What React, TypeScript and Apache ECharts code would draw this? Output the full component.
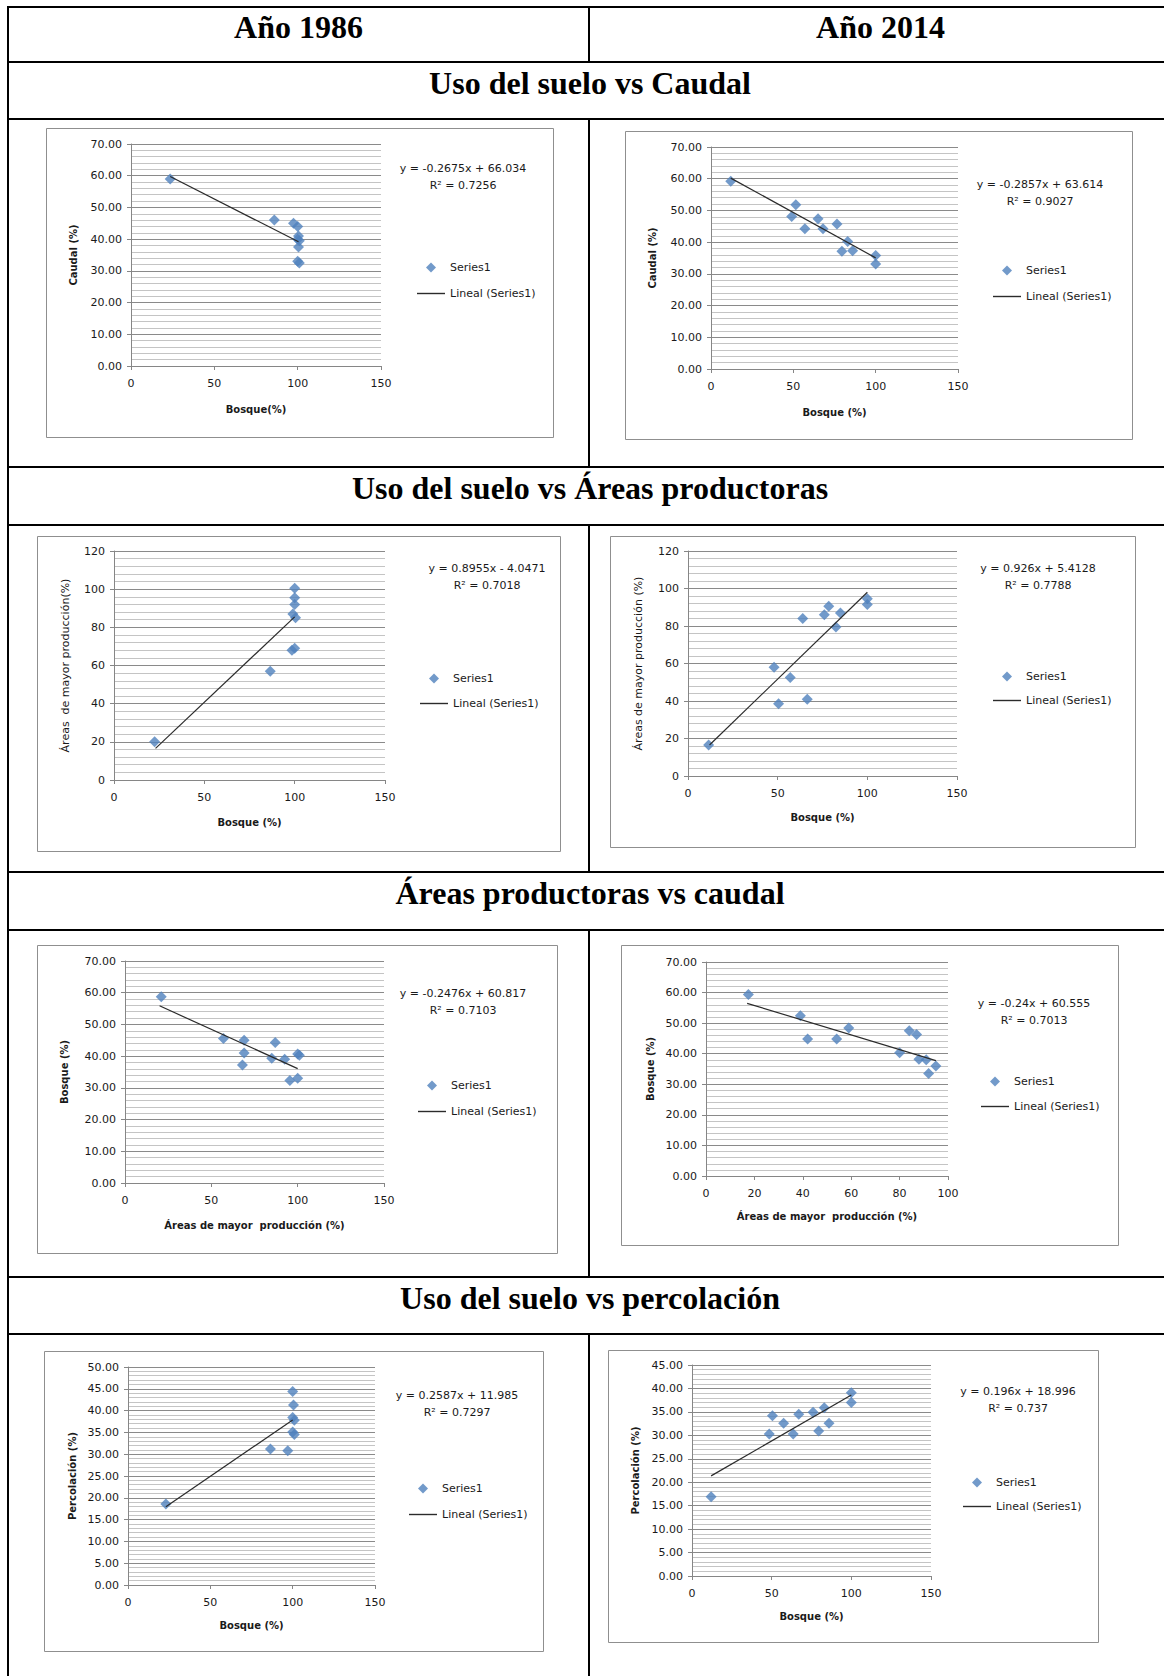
import React, { useEffect, useRef } from 'react';
import * as echarts from 'echarts';

// ---------- texts ----------
const yearHeaders = ['Año 1986', 'Año 2014'];
const sectionTitles = [
  'Uso del suelo vs Caudal',
  'Uso del suelo vs Áreas productoras',
  'Áreas productoras vs caudal',
  'Uso del suelo vs percolación',
];
const xAxisNames = [
  'Bosque(%)', 'Bosque (%)', 'Bosque (%)', 'Bosque (%)',
  'Áreas de mayor  producción (%)', 'Áreas de mayor  producción (%)', 'Bosque (%)', 'Bosque (%)',
];
const yAxisNames = [
  'Caudal (%)', 'Caudal (%)', 'Áreas  de mayor producción(%)', 'Áreas de mayor producción (%)',
  'Bosque (%)', 'Bosque (%)', 'Percolación (%)', 'Percolación (%)',
];
const equationTexts = [
  'y = -0.2675x + 66.034', 'y = -0.2857x + 63.614', 'y = 0.8955x - 4.0471', 'y = 0.926x + 5.4128',
  'y = -0.2476x + 60.817', 'y = -0.24x + 60.555', 'y = 0.2587x + 11.985', 'y = 0.196x + 18.996',
];
const r2Texts = [
  'R² = 0.7256', 'R² = 0.9027', 'R² = 0.7018', 'R² = 0.7788',
  'R² = 0.7103', 'R² = 0.7013', 'R² = 0.7297', 'R² = 0.737',
];
const seriesName = 'Series1';
const trendName = 'Lineal (Series1)';

// ---------- axis ranges ----------
const xMaxes = [150, 150, 150, 150, 150, 100, 150, 150];
const xIntervals = [50, 50, 50, 50, 50, 20, 50, 50];
const yMaxes = [70, 70, 120, 120, 70, 70, 50, 45];
const yIntervals = [10, 10, 20, 20, 10, 10, 5, 5];
const yDecimals = [2, 2, 0, 0, 2, 2, 2, 2];

// ---------- data ----------
// 1986: Bosque vs Caudal
const caudal1986X = [23.5, 86, 97.5, 100, 100.5, 101, 100, 100.5, 100, 101];
const caudal1986Y = [59, 46, 45, 44, 41, 39.5, 40, 37.5, 33, 32.5];
const caudal1986TrendX = [23.5, 100.5];
const caudal1986TrendY = [59.75, 39.15];
// 2014: Bosque vs Caudal
const caudal2014X = [12, 51.5, 49, 57, 65, 68, 76.5, 79.5, 83, 86, 100, 100];
const caudal2014Y = [59.2, 51.8, 48.1, 44.2, 47.4, 44.2, 45.7, 37.1, 40.2, 37.3, 35.8, 33.1];
const caudal2014TrendX = [12, 100];
const caudal2014TrendY = [60.19, 35.04];
// 1986: Bosque vs Áreas productoras
const areas1986X = [22.5, 86.5, 98.5, 100, 99, 100.5, 100, 100, 100];
const areas1986Y = [20, 57, 68, 69, 87, 85, 92, 95.5, 100.5];
const areas1986TrendX = [23, 100];
const areas1986TrendY = [16.55, 85.5];
// 2014: Bosque vs Áreas productoras
const areas2014X = [11.5, 48, 50.5, 57, 64, 66.5, 76, 78.5, 82.5, 85, 100, 100];
const areas2014Y = [16.5, 58, 38.5, 52.5, 84, 41, 86, 90.5, 79.5, 87, 94.5, 91.5];
const areas2014TrendX = [12, 100];
const areas2014TrendY = [16.52, 98.01];
// 1986: Áreas productoras vs Bosque
const prod1986X = [21, 57, 69, 69, 68, 85, 87, 92.5, 95.5, 100, 100, 101];
const prod1986Y = [58.7, 45.6, 45, 41, 37.2, 39.3, 44.3, 39, 32.3, 33, 40.7, 40.3];
const prod1986TrendX = [20, 100];
const prod1986TrendY = [55.87, 36.06];
// 2014: Áreas productoras vs Bosque
const prod2014X = [17.5, 39, 42, 54, 59, 80, 84, 87, 88, 91, 92, 95];
const prod2014Y = [59.4, 52.4, 44.8, 44.8, 48.4, 40.3, 47.5, 46.3, 38.2, 38, 33.5, 36];
const prod2014TrendX = [17, 95];
const prod2014TrendY = [56.48, 37.76];
// 1986: Bosque vs Percolación
const perc1986X = [23, 86.5, 97, 100, 100.5, 100, 101, 100, 101];
const perc1986Y = [18.6, 31.2, 30.8, 44.4, 41.3, 38.4, 37.8, 35.1, 34.5];
const perc1986TrendX = [23, 100];
const perc1986TrendY = [17.94, 37.86];
// 2014: Bosque vs Percolación
const perc2014X = [12, 48.5, 50.5, 57.5, 63.5, 67, 76, 79.5, 83, 86, 100, 100];
const perc2014Y = [16.9, 30.3, 34.2, 32.6, 30.3, 34.5, 34.9, 30.9, 35.9, 32.6, 39.1, 37];
const perc2014TrendX = [12, 100];
const perc2014TrendY = [21.35, 38.6];

const scatterX = [caudal1986X, caudal2014X, areas1986X, areas2014X, prod1986X, prod2014X, perc1986X, perc2014X];
const scatterY = [caudal1986Y, caudal2014Y, areas1986Y, areas2014Y, prod1986Y, prod2014Y, perc1986Y, perc2014Y];
const trendX = [caudal1986TrendX, caudal2014TrendX, areas1986TrendX, areas2014TrendX, prod1986TrendX, prod2014TrendX, perc1986TrendX, perc2014TrendX];
const trendY = [caudal1986TrendY, caudal2014TrendY, areas1986TrendY, areas2014TrendY, prod1986TrendY, prod2014TrendY, perc1986TrendY, perc2014TrendY];

// ---------- layout (pixels) ----------
type Layout = {
  frame: number[]; grid: number[]; eq: number[]; leg: number[]; xGap: number; yGap: number;
  yNameWeight: string; yNameSize: number;
};
const layouts: Layout[] = [
  { frame: [46, 128, 507, 309], grid: [131, 144, 250, 222], eq: [463, 168], leg: [417, 262, 15], xGap: 38, yGap: 53, yNameWeight: 'bold', yNameSize: 10 },
  { frame: [625, 131, 507, 308], grid: [711, 147, 247, 222], eq: [1040, 184], leg: [993, 265, 15], xGap: 38, yGap: 54, yNameWeight: 'bold', yNameSize: 10 },
  { frame: [37, 536, 523, 315], grid: [114, 551, 271, 229], eq: [487, 568], leg: [420, 673, 14], xGap: 37, yGap: 43, yNameWeight: 'normal', yNameSize: 11 },
  { frame: [610, 536, 525, 311], grid: [688, 551, 269, 225], eq: [1038, 568], leg: [993, 671, 13], xGap: 36, yGap: 44, yNameWeight: 'normal', yNameSize: 11 },
  { frame: [37, 945, 520, 308], grid: [125, 961, 259, 222], eq: [463, 993], leg: [418, 1080, 15], xGap: 37, yGap: 56, yNameWeight: 'bold', yNameSize: 10 },
  { frame: [621, 945, 497, 300], grid: [706, 962, 242, 214], eq: [1034, 1003], leg: [981, 1076, 14], xGap: 35, yGap: 51, yNameWeight: 'bold', yNameSize: 10 },
  { frame: [44, 1351, 499, 300], grid: [128, 1367, 247, 218], eq: [457, 1395], leg: [409, 1483, 15], xGap: 35, yGap: 51, yNameWeight: 'bold', yNameSize: 10 },
  { frame: [608, 1350, 490, 292], grid: [692, 1365, 239, 211], eq: [1018, 1391], leg: [963, 1477, 13], xGap: 35, yGap: 52, yNameWeight: 'bold', yNameSize: 10 },
];

const W = 1164;
const H = 1676;
const tableLeft = 8;
const tableRight = 1172;
const colDivider = 589;
const rowLines = [7, 62, 119, 467, 525, 872, 930, 1277, 1334];
const dividerSegments = [[7, 62], [119, 467], [525, 872], [930, 1277], [1334, H]];
const sectionTitleY = [83, 488, 893, 1298];
const yearHeaderY = 27;

const FONT = '"DejaVu Sans"';
const SERIF = '"Liberation Serif", "Times New Roman", serif';
const AXIS_COLOR = '#868686';
const TEXT_COLOR = '#1a1a1a';
const MARKER_COLOR = '#4F81BD';
const TREND_COLOR = '#2b2b2b';
const DIAMOND_ICON = 'path://M5 0L10 5L5 10L0 5Z';
const LINE_ICON = 'path://M0 0H28V1.4H0Z';

function buildOption() {
  const grid: any[] = [];
  const xAxis: any[] = [];
  const yAxis: any[] = [];
  const series: any[] = [];
  const legend: any[] = [];
  const graphic: any[] = [];

  layouts.forEach((L, i) => {
    grid.push({ left: L.grid[0], top: L.grid[1], width: L.grid[2], height: L.grid[3], containLabel: false });
    xAxis.push({
      type: 'value', gridIndex: i, min: 0, max: xMaxes[i], interval: xIntervals[i],
      axisLine: { show: true, onZero: false, lineStyle: { color: AXIS_COLOR, width: 1 } },
      axisTick: { show: true, length: 4, lineStyle: { color: AXIS_COLOR } },
      axisLabel: { margin: 12, fontFamily: FONT, fontSize: 11, color: TEXT_COLOR },
      splitLine: { show: false },
      name: xAxisNames[i], nameLocation: 'middle', nameGap: L.xGap,
      nameTextStyle: { fontFamily: FONT, fontSize: 10, fontWeight: 'bold', color: TEXT_COLOR },
    });
    yAxis.push({
      type: 'value', gridIndex: i, min: 0, max: yMaxes[i], interval: yIntervals[i],
      axisLine: { show: true, onZero: false, lineStyle: { color: AXIS_COLOR, width: 1 } },
      axisTick: { show: true, length: 4, lineStyle: { color: AXIS_COLOR } },
      axisLabel: {
        margin: 9, fontFamily: FONT, fontSize: 11, color: TEXT_COLOR,
        formatter: (v: number) => v.toFixed(yDecimals[i]),
      },
      splitLine: { show: true, lineStyle: { color: '#8a8a8a', width: 1 } },
      minorTick: { show: false, splitNumber: 5 },
      minorSplitLine: { show: true, lineStyle: { color: '#c4c4c4', width: 1 } },
      name: yAxisNames[i], nameLocation: 'middle', nameGap: L.yGap,
      nameTextStyle: { fontFamily: FONT, fontSize: L.yNameSize, fontWeight: L.yNameWeight, color: TEXT_COLOR },
    });
    series.push({
      type: 'scatter', name: seriesName, xAxisIndex: i, yAxisIndex: i,
      symbol: 'diamond', symbolSize: 11,
      itemStyle: { color: MARKER_COLOR },
      data: scatterX[i].map((x, k) => [x, scatterY[i][k]]),
      z: 3,
    });
    series.push({
      type: 'line', name: trendName, xAxisIndex: i, yAxisIndex: i,
      symbol: 'none', showSymbol: false,
      itemStyle: { color: TREND_COLOR },
      lineStyle: { color: TREND_COLOR, width: 1.2 },
      data: trendX[i].map((x, k) => [x, trendY[i][k]]),
      z: 4,
    });
    legend.push({
      orient: 'vertical', left: L.leg[0], top: L.leg[1], itemGap: L.leg[2],
      itemWidth: 28, itemHeight: 10, selectedMode: false, padding: 0,
      symbolKeepAspect: true,
      textStyle: { fontFamily: FONT, fontSize: 11, color: TEXT_COLOR },
      data: [
        { name: seriesName, icon: DIAMOND_ICON, itemStyle: { color: MARKER_COLOR } },
        { name: trendName, icon: LINE_ICON, itemStyle: { color: TREND_COLOR, borderWidth: 0 } },
      ],
    });
    graphic.push({
      type: 'rect', silent: true,
      shape: { x: L.frame[0] + 0.5, y: L.frame[1] + 0.5, width: L.frame[2], height: L.frame[3] },
      style: { fill: 'none', stroke: '#8f8f8f', lineWidth: 1 },
    });
    graphic.push({
      type: 'text', silent: true, x: L.eq[0], y: L.eq[1],
      style: { text: equationTexts[i], textAlign: 'center', textVerticalAlign: 'middle', font: `11px ${FONT}`, fill: TEXT_COLOR },
    });
    graphic.push({
      type: 'text', silent: true, x: L.eq[0], y: L.eq[1] + 17,
      style: { text: r2Texts[i], textAlign: 'center', textVerticalAlign: 'middle', font: `11px ${FONT}`, fill: TEXT_COLOR },
    });
  });

  // table lines
  rowLines.forEach((y) => {
    graphic.push({
      type: 'line', silent: true,
      shape: { x1: tableLeft - 1, y1: y, x2: tableRight, y2: y },
      style: { stroke: '#000', lineWidth: 2 },
    });
  });
  graphic.push({
    type: 'line', silent: true,
    shape: { x1: tableLeft, y1: rowLines[0] - 1, x2: tableLeft, y2: H },
    style: { stroke: '#000', lineWidth: 2 },
  });
  dividerSegments.forEach((s) => {
    graphic.push({
      type: 'line', silent: true,
      shape: { x1: colDivider, y1: s[0], x2: colDivider, y2: s[1] },
      style: { stroke: '#000', lineWidth: 2 },
    });
  });
  // headers
  const yearCenters = [(tableLeft + colDivider) / 2, (colDivider + tableRight) / 2];
  yearHeaders.forEach((t, k) => {
    graphic.push({
      type: 'text', silent: true, x: yearCenters[k], y: yearHeaderY,
      style: { text: t, textAlign: 'center', textVerticalAlign: 'middle', font: `bold 32px ${SERIF}`, fill: '#000' },
    });
  });
  sectionTitles.forEach((t, k) => {
    graphic.push({
      type: 'text', silent: true, x: (tableLeft + tableRight) / 2, y: sectionTitleY[k],
      style: { text: t, textAlign: 'center', textVerticalAlign: 'middle', font: `bold 32px ${SERIF}`, fill: '#000' },
    });
  });

  return {
    animation: false,
    backgroundColor: '#ffffff',
    grid, xAxis, yAxis, series, legend, graphic,
  };
}

export default function App() {
  const ref = useRef<HTMLDivElement>(null);
  useEffect(() => {
    if (!ref.current) return;
    const chart = echarts.init(ref.current, undefined, { renderer: 'svg' });
    chart.setOption(buildOption() as any);
    return () => chart.dispose();
  }, []);
  return (
    <div
      ref={ref}
      style={{ position: 'absolute', left: 0, top: 0, width: W, height: H, background: '#fff' }}
    />
  );
}
